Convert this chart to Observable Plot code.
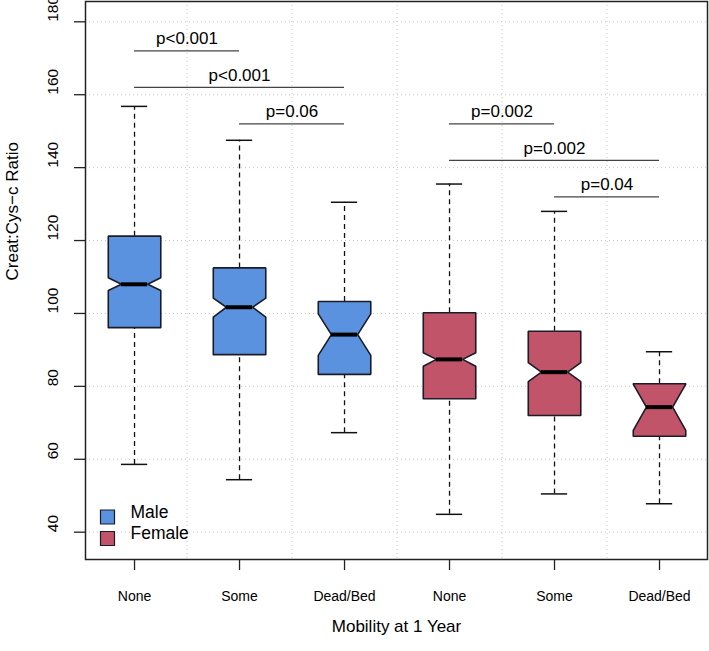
<!DOCTYPE html>
<html>
<head>
<meta charset="utf-8">
<script src="https://cdn.jsdelivr.net/npm/d3@7"></script>
<script src="https://cdn.jsdelivr.net/npm/@observablehq/plot@0.6"></script>
<style>
  html, body { margin: 0; padding: 0; background: #fff; }
  #chart svg { display: block; overflow: visible; }
</style>
</head>
<body>
<div id="chart"></div>
<script>
// ---- data ----
const groups    = ["None", "Some", "Dead/Bed", "None", "Some", "Dead/Bed"];
const sexes     = ["Male", "Male", "Male", "Female", "Female", "Female"];
const whiskerLo = [58.6, 54.4, 67.3, 44.9, 50.5, 47.8];
const q1        = [96.1, 88.7, 83.3, 76.6, 72.0, 66.3];
const notchLo   = [106.3, 99.0, 88.5, 85.5, 81.3, 67.9];
const median    = [108.0, 101.7, 94.2, 87.4, 83.9, 74.3];
const notchHi   = [109.8, 104.2, 99.9, 89.2, 86.5, 80.6];
const q3        = [121.2, 112.5, 103.3, 100.2, 95.1, 80.7];
const whiskerHi = [156.8, 147.5, 130.5, 135.5, 128.0, 89.5];

// pairwise comparisons (box index from/to, 1-based), bar height, label
const cmpFrom  = [1, 1, 2, 4, 4, 5];
const cmpTo    = [2, 3, 3, 5, 6, 6];
const cmpY     = [172, 162, 152, 152, 142, 132];
const cmpLabel = ["p<0.001", "p<0.001", "p=0.06", "p=0.002", "p=0.002", "p=0.04"];

const yTicks = [40, 60, 80, 100, 120, 140, 160, 180];
const legendKeys = ["Male", "Female"];
const colors = {Male: "#5a92e0", Female: "#c15469"};

// ---- derived tables ----
const HW = 0.25;   // box half width (x units)
const boxes = groups.map((g, i) => ({
  pos: i + 1, group: g, sex: sexes[i],
  wlo: whiskerLo[i], q1: q1[i], nlo: notchLo[i], med: median[i],
  nhi: notchHi[i], q3: q3[i], whi: whiskerHi[i]
}));
const poly = boxes.flatMap(b => {
  const c = b.pos;
  return [
    [c - HW, b.q1], [c - HW, b.nlo], [c - HW / 2, b.med], [c - HW, b.nhi], [c - HW, b.q3],
    [c + HW, b.q3], [c + HW, b.nhi], [c + HW / 2, b.med], [c + HW, b.nlo], [c + HW, b.q1],
    [c - HW, b.q1]
  ].map(([x, y]) => ({id: b.pos, sex: b.sex, x, y}));
});
const cmps = cmpFrom.map((f, i) => ({x1: f, x2: cmpTo[i], y: cmpY[i], label: cmpLabel[i], xm: (f + cmpTo[i]) / 2}));
const vGrid = d3.range(1, groups.length).map(i => i + 0.5);

const legendMarks = legendKeys.flatMap((k, i) => [
  Plot.dot([k], {frameAnchor: "bottom-left", dx: 22, dy: -42.5 + i * 21.5, symbol: "square", r: 7.9,
    fill: colors[k], stroke: "#1c1c28", strokeWidth: 1.2}),
  Plot.text([k], {frameAnchor: "bottom-left", dx: 45, dy: -42 + i * 21.5, text: d => d, textAnchor: "start",
    fontSize: 17.5, fill: "#000"})
]);

const dash = "5,4";
const chart = Plot.plot({
  width: 709,
  height: 651,
  marginTop: 1,
  marginBottom: 92,
  marginLeft: 85,
  marginRight: 2,
  style: {fontFamily: "'Liberation Sans', Arial, Helvetica, sans-serif", background: "#fff", color: "#000"},
  x: {domain: [0.533, 6.457], axis: null},
  y: {domain: [32.51, 185.57], axis: null},
  marks: [
    // grid
    Plot.ruleY(yTicks, {stroke: "#c8c8c8", strokeDasharray: "1,3", strokeWidth: 1}),
    Plot.ruleX(vGrid, {stroke: "#c8c8c8", strokeDasharray: "1,3", strokeWidth: 1}),
    // whiskers
    Plot.ruleX(boxes, {x: "pos", y1: "q3", y2: "whi", stroke: "#111", strokeDasharray: dash, strokeWidth: 1.3}),
    Plot.ruleX(boxes, {x: "pos", y1: "wlo", y2: "q1", stroke: "#111", strokeDasharray: dash, strokeWidth: 1.3}),
    Plot.ruleY(boxes, {y: "whi", x1: d => d.pos - HW / 2, x2: d => d.pos + HW / 2, stroke: "#111", strokeWidth: 1.5}),
    Plot.ruleY(boxes, {y: "wlo", x1: d => d.pos - HW / 2, x2: d => d.pos + HW / 2, stroke: "#111", strokeWidth: 1.5}),
    // notched boxes
    Plot.line(poly.filter(d => d.sex === "Male"), {x: "x", y: "y", z: "id", fill: colors.Male, stroke: "#1c1c28", strokeWidth: 1.6, strokeLinejoin: "miter"}),
    Plot.line(poly.filter(d => d.sex === "Female"), {x: "x", y: "y", z: "id", fill: colors.Female, stroke: "#1c1c28", strokeWidth: 1.6, strokeLinejoin: "miter"}),
    // medians
    Plot.ruleY(boxes, {y: "med", x1: d => d.pos - HW / 2, x2: d => d.pos + HW / 2, stroke: "#000", strokeWidth: 4}),
    // comparison bars
    Plot.ruleY(cmps, {y: "y", x1: "x1", x2: "x2", stroke: "#444", strokeWidth: 1.2}),
    Plot.text(cmps, {x: "xm", y: "y", text: "label", dy: -12, fontSize: 17, fill: "#000"}),
    // frame
    Plot.frame({stroke: "#222", strokeWidth: 1.5}),
    // axes
    Plot.axisX({ticks: boxes.map(b => b.pos), tickFormat: i => groups[i - 1], tickSize: 11, tickPadding: 21, fontSize: 14, label: null, stroke: "#222", strokeWidth: 1.3}),
    Plot.axisY({ticks: yTicks, tickSize: 11, tickFormat: () => "", label: null, stroke: "#222", strokeWidth: 1.3}),
    Plot.text(yTicks, {y: d => d, text: d => String(d), frameAnchor: "left", dx: -32, rotate: -90, fontSize: 15.5, fill: "#000"}),
    Plot.text(["Mobility at 1 Year"], {frameAnchor: "bottom", dy: 72, fontSize: 17, fill: "#000"}),
    Plot.text(["Creat:Cys\u2212c Ratio"], {frameAnchor: "left", dx: -73, rotate: -90, fontSize: 17, fill: "#000"}),
    // legend
    ...legendMarks
  ]
});
document.getElementById("chart").appendChild(chart);
</script>
</body>
</html>
